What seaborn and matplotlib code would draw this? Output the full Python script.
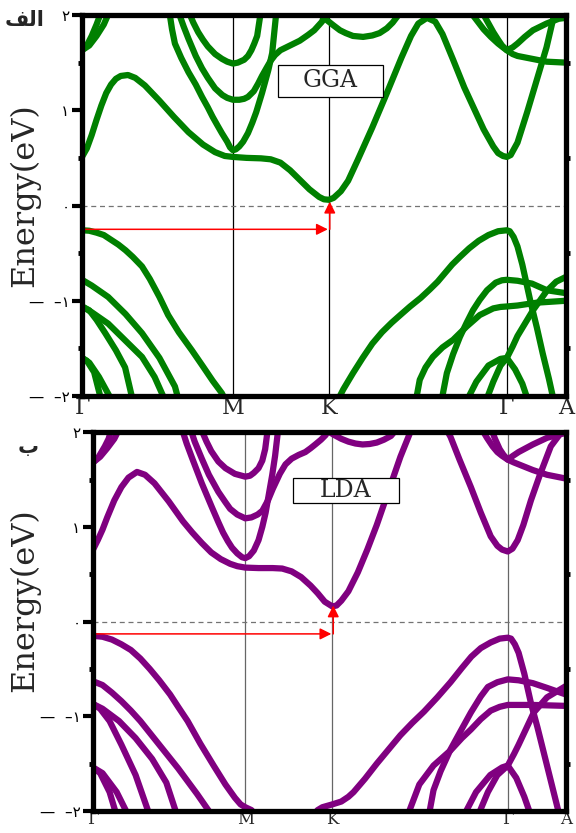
import numpy as np
import pandas as pd
import matplotlib
matplotlib.use('Agg')
import matplotlib.pyplot as plt
from matplotlib.ticker import MultipleLocator
from matplotlib.patches import Rectangle
import seaborn as sns

sns.set_theme(style='white')
plt.rcParams['font.family'] = ['DejaVu Sans']

# ---------------- data ----------------
K_LABELS = ['Γ', 'M', 'K', 'Γ', 'A']
GGA_KPOS = [0.0, 0.312, 0.510, 0.878, 1.0]
LDA_KPOS = [0.0, 0.322, 0.506, 0.877, 1.0]
Y_TICKS = [-2, -1, 0, 1, 2]
Y_TICKLABELS = ['—  –۲', '—  –۱', '۰', '۱', '۲']

# GGA bands: (k, E[eV])
GGA_CB1 = [(0, 0.51), (0.01, 0.60), (0.02, 0.74), (0.03, 0.90), (0.04, 1.05), (0.05, 1.18),
           (0.06, 1.27), (0.07, 1.33), (0.08, 1.36), (0.095, 1.37), (0.11, 1.34), (0.13, 1.26),
           (0.16, 1.10), (0.19, 0.93), (0.22, 0.77), (0.25, 0.64), (0.275, 0.56), (0.295, 0.52),
           (0.312, 0.51), (0.34, 0.50), (0.37, 0.495), (0.39, 0.485), (0.41, 0.45), (0.43, 0.37),
           (0.45, 0.27), (0.47, 0.17), (0.49, 0.09), (0.50, 0.065), (0.51, 0.06), (0.52, 0.08),
           (0.535, 0.15), (0.55, 0.26), (0.57, 0.48), (0.60, 0.82), (0.63, 1.18), (0.66, 1.55),
           (0.68, 1.78), (0.695, 1.91), (0.713, 1.97), (0.73, 1.93), (0.745, 1.80), (0.767, 1.53),
           (0.79, 1.24), (0.81, 1.02), (0.83, 0.80), (0.85, 0.62), (0.86, 0.55), (0.87, 0.52),
           (0.878, 0.51), (0.886, 0.53), (0.90, 0.66), (0.92, 0.98), (0.94, 1.32), (0.96, 1.66),
           (0.978, 2.05)]
GGA_M1 = [(0.18, 2.05), (0.186, 1.85), (0.192, 1.7), (0.205, 1.55), (0.22, 1.40), (0.235, 1.27),
          (0.248, 1.14), (0.26, 1.03), (0.27, 0.93), (0.28, 0.84), (0.289, 0.76), (0.30, 0.67),
          (0.306, 0.61), (0.312, 0.58), (0.318, 0.59), (0.325, 0.62), (0.333, 0.67), (0.343, 0.76),
          (0.352, 0.87), (0.36, 0.98), (0.372, 1.18), (0.385, 1.42), (0.393, 1.6), (0.402, 2.05)]
GGA_M2 = [(0.198, 2.05), (0.21, 1.88), (0.22, 1.75), (0.235, 1.57), (0.248, 1.44), (0.26, 1.34),
          (0.275, 1.23), (0.29, 1.16), (0.30, 1.13), (0.312, 1.11), (0.325, 1.11), (0.335, 1.12),
          (0.343, 1.14), (0.355, 1.20), (0.364, 1.28), (0.372, 1.36), (0.382, 1.45), (0.39, 1.52),
          (0.399, 1.58), (0.41, 1.63), (0.434, 1.69), (0.45, 1.73), (0.467, 1.79), (0.48, 1.84),
          (0.496, 1.93), (0.505, 2.05)]
GGA_M3 = [(0.219, 2.05), (0.23, 1.92), (0.24, 1.82), (0.25, 1.74), (0.26, 1.67), (0.275, 1.59),
          (0.289, 1.54), (0.30, 1.51), (0.312, 1.49), (0.322, 1.50), (0.335, 1.53), (0.343, 1.57),
          (0.35, 1.63), (0.356, 1.70), (0.362, 1.78), (0.37, 2.05)]
GGA_KD = [(0.485, 2.05), (0.50, 1.97), (0.51, 1.93), (0.52, 1.89), (0.533, 1.84), (0.545, 1.81),
          (0.56, 1.78), (0.581, 1.77), (0.60, 1.785), (0.615, 1.81), (0.63, 1.86), (0.642, 1.92),
          (0.651, 1.98), (0.66, 2.05)]
GGA_G1A = [(0, 1.63), (0.01, 1.68), (0.02, 1.78), (0.03, 1.90), (0.041, 2.05)]
GGA_G1B = [(0, 1.63), (0.015, 1.68), (0.03, 1.78), (0.045, 1.90), (0.058, 2.05)]
GGA_G2A = [(0.80, 2.05), (0.815, 1.95), (0.83, 1.85), (0.845, 1.77), (0.86, 1.70), (0.87, 1.66),
           (0.878, 1.63), (0.89, 1.59), (0.90, 1.57), (0.92, 1.55), (0.96, 1.51), (1.0, 1.50)]
GGA_G2B = [(0.825, 2.05), (0.838, 1.93), (0.85, 1.82), (0.86, 1.74), (0.868, 1.68), (0.878, 1.63),
           (0.89, 1.66), (0.90, 1.70), (0.915, 1.77), (0.932, 1.84), (0.96, 1.91), (0.985, 1.96),
           (1.0, 1.97)]
GGA_VB1L = [(0, -0.26), (0.015, -0.265), (0.03, -0.285), (0.045, -0.31), (0.06, -0.36), (0.075, -0.41),
            (0.09, -0.47), (0.105, -0.54), (0.124, -0.64), (0.14, -0.77), (0.16, -0.96), (0.178, -1.15),
            (0.20, -1.33), (0.227, -1.52), (0.25, -1.69), (0.27, -1.84), (0.289, -1.97), (0.297, -2.05)]
GGA_VB1R = [(0.528, -2.05), (0.54, -1.93), (0.56, -1.76), (0.58, -1.60), (0.60, -1.45), (0.62, -1.33),
            (0.64, -1.23), (0.66, -1.14), (0.678, -1.06), (0.70, -0.97), (0.719, -0.88), (0.735, -0.80),
            (0.75, -0.71), (0.765, -0.62), (0.781, -0.54), (0.80, -0.45), (0.82, -0.37), (0.84, -0.31),
            (0.86, -0.27), (0.878, -0.26), (0.884, -0.27), (0.892, -0.33), (0.90, -0.43), (0.91, -0.62),
            (0.926, -0.99), (0.94, -1.28), (0.952, -1.55), (0.965, -1.82), (0.975, -2.05)]
GGA_VB2L = [(0, -0.78), (0.02, -0.84), (0.054, -0.96), (0.09, -1.14), (0.124, -1.34), (0.16, -1.6),
            (0.192, -1.9), (0.20, -2.05)]
GGA_VB3L = [(0, -1.06), (0.02, -1.12), (0.054, -1.24), (0.09, -1.42), (0.124, -1.59), (0.15, -1.8),
            (0.172, -2.05)]
GGA_VB4L = [(0, -1.06), (0.015, -1.10), (0.03, -1.20), (0.048, -1.34), (0.07, -1.52), (0.089, -1.70),
            (0.105, -2.05)]
GGA_VB5L = [(0, -1.6), (0.01, -1.63), (0.025, -1.75), (0.04, -2.05)]
GGA_VB6L = [(0, -1.6), (0.015, -1.65), (0.035, -1.8), (0.062, -2.05)]
GGA_VB2R = [(0.743, -2.05), (0.754, -1.76), (0.767, -1.56), (0.781, -1.38), (0.795, -1.23),
            (0.808, -1.10), (0.822, -0.99), (0.837, -0.89), (0.855, -0.81), (0.868, -0.785),
            (0.878, -0.78), (0.90, -0.79), (0.93, -0.82), (0.961, -0.89), (1.0, -0.92)]
GGA_VB3R = [(0.690, -2.05), (0.698, -1.83), (0.71, -1.70), (0.725, -1.59), (0.745, -1.49),
            (0.767, -1.41), (0.795, -1.27), (0.822, -1.15), (0.85, -1.08), (0.865, -1.065),
            (0.878, -1.06), (0.90, -1.05), (0.94, -1.02), (1.0, -1.0)]
GGA_VB4R = [(0.795, -2.05), (0.815, -1.85), (0.84, -1.68), (0.865, -1.61), (0.878, -1.6),
            (0.89, -1.48), (0.90, -1.37), (0.932, -1.10), (0.96, -0.90), (0.98, -0.80), (1.0, -0.75)]
GGA_VB5R = [(0.835, -2.05), (0.85, -1.85), (0.865, -1.68), (0.878, -1.6), (0.895, -1.72),
            (0.91, -1.87), (0.922, -2.05)]

# LDA bands: (k, E[eV])
LDA_CB1 = [(0, 0.76), (0.01, 0.86), (0.02, 0.97), (0.03, 1.10), (0.045, 1.28), (0.06, 1.42),
           (0.075, 1.52), (0.093, 1.58), (0.11, 1.55), (0.13, 1.46), (0.16, 1.27), (0.19, 1.06),
           (0.21, 0.94), (0.23, 0.83), (0.25, 0.73), (0.27, 0.66), (0.29, 0.61), (0.305, 0.585),
           (0.322, 0.57), (0.35, 0.565), (0.38, 0.565), (0.40, 0.56), (0.42, 0.53), (0.44, 0.47),
           (0.46, 0.38), (0.475, 0.30), (0.49, 0.21), (0.506, 0.16), (0.515, 0.17), (0.525, 0.22),
           (0.54, 0.32), (0.56, 0.52), (0.58, 0.76), (0.60, 1.02), (0.625, 1.38), (0.65, 1.74),
           (0.675, 2.05)]
LDA_CB1R = [(0.745, 2.05), (0.756, 1.95), (0.775, 1.71), (0.799, 1.42), (0.82, 1.15), (0.841, 0.90),
            (0.855, 0.80), (0.865, 0.76), (0.877, 0.74), (0.887, 0.77), (0.898, 0.86), (0.91, 1.02),
            (0.926, 1.28), (0.945, 1.55), (0.968, 1.85), (0.989, 1.99), (1.0, 2.02)]
LDA_M1 = [(0.187, 2.05), (0.198, 1.88), (0.21, 1.72), (0.23, 1.46), (0.252, 1.2), (0.265, 1.05),
          (0.275, 0.94), (0.285, 0.85), (0.294, 0.78), (0.305, 0.72), (0.315, 0.68), (0.322, 0.67),
          (0.33, 0.69), (0.34, 0.75), (0.35, 0.86), (0.358, 1.0), (0.365, 1.15), (0.372, 1.35),
          (0.379, 1.55), (0.385, 1.75), (0.392, 2.05)]
LDA_M2 = [(0.205, 2.05), (0.215, 1.9), (0.23, 1.72), (0.245, 1.55), (0.265, 1.37), (0.28, 1.26),
          (0.29, 1.19), (0.305, 1.13), (0.322, 1.09), (0.335, 1.10), (0.348, 1.13), (0.358, 1.17),
          (0.37, 1.28), (0.38, 1.40), (0.395, 1.56), (0.407, 1.66), (0.42, 1.72), (0.435, 1.76),
          (0.449, 1.79), (0.46, 1.83), (0.47, 1.87), (0.482, 1.92), (0.492, 1.97), (0.50, 2.05)]
LDA_M3 = [(0.227, 2.05), (0.24, 1.9), (0.25, 1.8), (0.265, 1.69), (0.28, 1.62), (0.30, 1.56),
          (0.322, 1.53), (0.332, 1.54), (0.34, 1.57), (0.35, 1.62), (0.358, 1.70), (0.364, 1.82),
          (0.37, 2.05)]
LDA_KD = [(0.49, 2.05), (0.50, 2.0), (0.51, 1.97), (0.525, 1.93), (0.54, 1.90), (0.555, 1.88),
          (0.57, 1.87), (0.585, 1.875), (0.60, 1.89), (0.615, 1.92), (0.63, 1.96), (0.645, 2.05)]
LDA_G1A = [(0, 1.68), (0.012, 1.74), (0.025, 1.85), (0.033, 1.93), (0.04, 2.05)]
LDA_G1B = [(0, 1.68), (0.015, 1.74), (0.03, 1.83), (0.045, 1.93), (0.057, 2.05)]
LDA_G2A = [(0.82, 2.05), (0.833, 1.94), (0.845, 1.85), (0.855, 1.79), (0.865, 1.75), (0.877, 1.71),
           (0.89, 1.68), (0.90, 1.66), (0.93, 1.60), (0.96, 1.55), (1.0, 1.51)]
LDA_G2B = [(0.841, 2.05), (0.85, 1.93), (0.86, 1.82), (0.868, 1.76), (0.877, 1.71), (0.888, 1.75),
           (0.90, 1.79), (0.93, 1.87), (0.96, 1.94), (0.989, 1.98), (1.0, 1.99)]
LDA_VB1L = [(0, -0.15), (0.02, -0.16), (0.04, -0.19), (0.06, -0.24), (0.08, -0.30), (0.10, -0.39),
            (0.12, -0.50), (0.14, -0.62), (0.163, -0.77), (0.18, -0.90), (0.20, -1.05), (0.227, -1.29),
            (0.255, -1.52), (0.28, -1.72), (0.30, -1.86), (0.312, -1.93), (0.322, -1.96),
            (0.335, -1.99), (0.345, -2.05)]
LDA_VB1R = [(0.465, -2.05), (0.475, -1.99), (0.485, -1.96), (0.506, -1.93), (0.525, -1.90),
            (0.54, -1.85), (0.551, -1.80), (0.575, -1.66), (0.60, -1.50), (0.625, -1.35), (0.65, -1.20),
            (0.675, -1.07), (0.70, -0.95), (0.728, -0.80), (0.756, -0.64), (0.78, -0.49), (0.80, -0.37),
            (0.82, -0.28), (0.841, -0.22), (0.86, -0.18), (0.877, -0.17), (0.884, -0.18), (0.892, -0.24),
            (0.90, -0.33), (0.912, -0.55), (0.926, -0.86), (0.94, -1.12), (0.953, -1.38),
            (0.968, -1.68), (0.983, -1.98), (0.986, -2.05)]
LDA_VB2L = [(0, -0.63), (0.02, -0.67), (0.04, -0.75), (0.06, -0.84), (0.08, -0.94), (0.10, -1.05),
            (0.14, -1.30), (0.18, -1.55), (0.22, -1.82), (0.252, -2.05)]
LDA_VB3L = [(0, -0.87), (0.02, -0.92), (0.055, -1.05), (0.09, -1.23), (0.125, -1.45), (0.155, -1.70),
            (0.178, -2.05)]
LDA_VB4L = [(0, -0.87), (0.015, -0.92), (0.035, -1.05), (0.06, -1.30), (0.09, -1.62), (0.12, -2.05)]
LDA_VB5L = [(0, -1.54), (0.015, -1.60), (0.035, -1.80), (0.05, -2.05)]
LDA_VB6L = [(0, -1.54), (0.02, -1.60), (0.05, -1.80), (0.075, -2.05)]
LDA_VB2R = [(0.71, -2.05), (0.72, -1.78), (0.735, -1.58), (0.756, -1.35), (0.778, -1.15),
            (0.799, -0.96), (0.82, -0.79), (0.835, -0.69), (0.855, -0.64), (0.877, -0.61),
            (0.90, -0.62), (0.93, -0.65), (0.96, -0.70), (1.0, -0.77)]
LDA_VB3R = [(0.665, -2.05), (0.69, -1.72), (0.72, -1.52), (0.756, -1.36), (0.78, -1.23),
            (0.799, -1.14), (0.82, -1.03), (0.841, -0.94), (0.86, -0.90), (0.877, -0.88),
            (0.93, -0.88), (1.0, -0.89)]
LDA_VB4R = [(0.784, -2.05), (0.81, -1.80), (0.84, -1.62), (0.865, -1.54), (0.877, -1.52),
            (0.89, -1.40), (0.90, -1.30), (0.932, -0.96), (0.96, -0.80), (1.0, -0.68)]
LDA_VB5R = [(0.814, -2.05), (0.835, -1.80), (0.855, -1.62), (0.877, -1.52), (0.895, -1.65),
            (0.912, -1.85), (0.926, -2.05)]

GGA_BANDS = [GGA_CB1, GGA_M1, GGA_M2, GGA_M3, GGA_KD, GGA_G1A, GGA_G1B, GGA_G2A, GGA_G2B,
             GGA_VB1L, GGA_VB1R, GGA_VB2L, GGA_VB3L, GGA_VB4L, GGA_VB5L, GGA_VB6L,
             GGA_VB2R, GGA_VB3R, GGA_VB4R, GGA_VB5R]
LDA_BANDS = [LDA_CB1, LDA_CB1R, LDA_M1, LDA_M2, LDA_M3, LDA_KD, LDA_G1A, LDA_G1B, LDA_G2A, LDA_G2B,
             LDA_VB1L, LDA_VB1R, LDA_VB2L, LDA_VB3L, LDA_VB4L, LDA_VB5L, LDA_VB6L,
             LDA_VB2R, LDA_VB3R, LDA_VB4R, LDA_VB5R]

GGA_ARROW = (-0.25, 0.04)   # VBM level, CBM level
LDA_ARROW = (-0.13, 0.17)
GGA_BOX = (0.405, 1.14, 0.217, 0.335)   # k0, E0, width, height
LDA_BOX = (0.422, 1.25, 0.224, 0.27)


def to_frame(bands):
    rows = []
    for i, b in enumerate(bands):
        for j, (k, e) in enumerate(b):
            rows.append({'band': i, 'order': j, 'k': k, 'E': e})
    return pd.DataFrame(rows)


def draw(ax, bands, kpos, color, vcolor, label, box, arrow, xfs, xpad):
    df = to_frame(bands)
    sns.lineplot(data=df, x='k', y='E', units='band', estimator=None, sort=False,
                 color=color, lw=4.5, ax=ax, legend=False, zorder=3)
    for line in ax.get_lines():
        line.set_solid_joinstyle('round')
    for x in kpos[1:4]:
        ax.axvline(x, color=vcolor, lw=0.9, zorder=2)
    ax.axhline(0, color='0.45', lw=0.9, ls=(0, (4, 3)), zorder=2)
    kK = kpos[2]
    e0, e1 = arrow
    ax.annotate('', xy=(kK - 0.002, e0), xytext=(0.0, e0),
                arrowprops=dict(arrowstyle='-|>', color='red', lw=1.1, mutation_scale=17,
                                shrinkA=0, shrinkB=0), zorder=5)
    ax.annotate('', xy=(kK + 0.002, e1), xytext=(kK + 0.002, e0),
                arrowprops=dict(arrowstyle='-|>', color='red', lw=1.1, mutation_scale=17,
                                shrinkA=0, shrinkB=0), zorder=5)
    bx, by, bw, bh = box
    ax.add_patch(Rectangle((bx, by), bw, bh, facecolor='white', edgecolor='black',
                           lw=0.9, zorder=6))
    ax.text(bx + bw / 2, by + bh / 2, label, fontsize=17, family='DejaVu Serif',
            ha='center', va='center', zorder=7)
    ax.set_xlim(0, 1)
    ax.set_ylim(-2, 2)
    ax.set_xlabel('')
    ax.set_ylabel('')
    ax.set_xticks(kpos)
    ax.set_xticklabels(K_LABELS, fontsize=xfs, family='DejaVu Serif')
    ax.set_yticks(Y_TICKS)
    ax.set_yticklabels(Y_TICKLABELS, fontsize=11)
    ax.yaxis.set_minor_locator(MultipleLocator(0.5))
    ax.tick_params(axis='x', which='both', length=0, pad=xpad)
    ax.tick_params(axis='y', which='major', direction='out', length=7, width=3,
                   left=True, right=False, pad=2, colors='black')
    ax.tick_params(axis='y', which='minor', direction='out', length=3, width=3.5,
                   left=True, right=True, color='black')
    for s in ax.spines.values():
        s.set_visible(True)
        s.set_linewidth(3.8)
        s.set_color('black')
        s.set_zorder(8)


fig = plt.figure(figsize=(5.76, 8.33), dpi=100)
ax1 = fig.add_axes([0.1424, 0.5246, 0.840, 0.4574])
ax2 = fig.add_axes([0.1615, 0.0264, 0.821, 0.4548])

draw(ax1, GGA_BANDS, GGA_KPOS, '#008000', 'black', 'GGA', GGA_BOX, GGA_ARROW, 16, 1)
draw(ax2, LDA_BANDS, LDA_KPOS, '#800080', '0.4', 'LDA', LDA_BOX, LDA_ARROW, 12, 0)

fig.text(0.042, 0.766, 'Energy(eV)', rotation=90, fontsize=23, family='DejaVu Serif',
         ha='center', va='center')
fig.text(0.042, 0.280, 'Energy(eV)', rotation=90, fontsize=23, family='DejaVu Serif',
         ha='center', va='center')
fig.text(0.043, 0.976, '\uFED2\uFEDF\uFE8D', fontsize=15, fontweight='bold',
         ha='center', va='center')
fig.text(0.049, 0.463, '\uFE8F', fontsize=15, fontweight='bold', ha='center', va='center')

fig.savefig('out.png', dpi=100)
